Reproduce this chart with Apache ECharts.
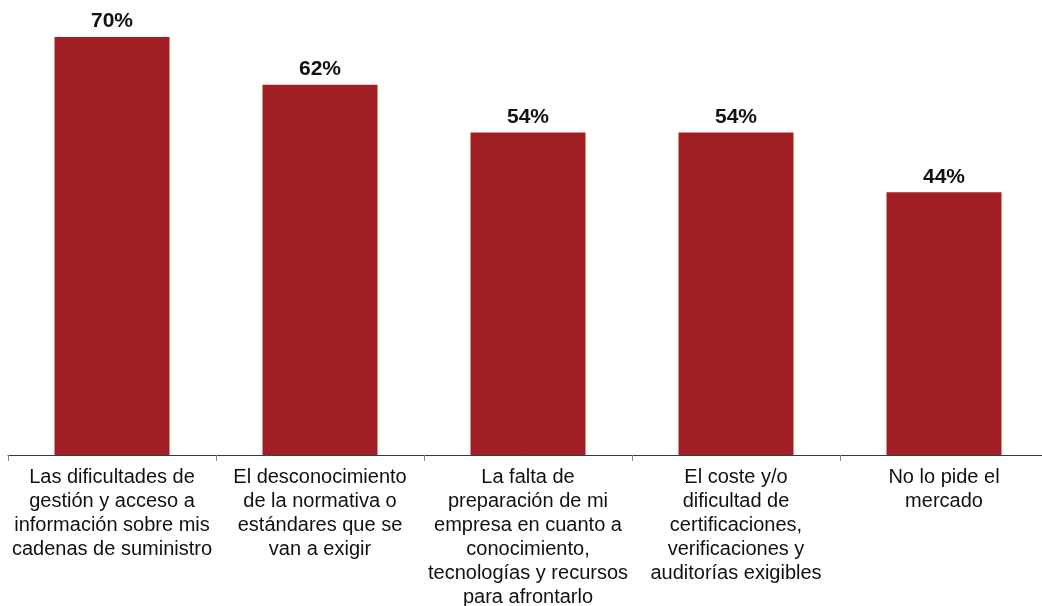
<!DOCTYPE html>
<html>
<head>
<meta charset="utf-8">
<style>
  html, body { margin: 0; padding: 0; background: #fff; }
  #chart { width: 1042px; height: 606px; }
</style>
<script src="https://cdn.jsdelivr.net/npm/echarts@6/dist/echarts.min.js"></script>
</head>
<body>
<div id="chart"></div>
<script>
// Barreras señaladas por las empresas (% de respuestas)
const categories = [
  'Las dificultades de\ngestión y acceso a\ninformación sobre mis\ncadenas de suministro',
  'El desconocimiento\nde la normativa o\nestándares que se\nvan a exigir',
  'La falta de\npreparación de mi\nempresa en cuanto a\nconocimiento,\ntecnologías y recursos\npara afrontarlo',
  'El coste y/o\ndificultad de\ncertificaciones,\nverificaciones y\nauditorías exigibles',
  'No lo pide el\nmercado'
];
const values = [70, 62, 54, 54, 44];

const chart = echarts.init(document.getElementById('chart'));
chart.setOption({
  animation: false,
  grid: { left: 8, right: -6, top: 0, height: 455, containLabel: false, outerBoundsMode: 'none' },
  xAxis: {
    type: 'category',
    data: categories,
    axisLine: { lineStyle: { color: '#3a3a3a', width: 1 } },
    axisTick: { show: true, length: 6, lineStyle: { color: '#8a8a8a' } },
    axisLabel: {
      interval: 0,
      margin: 10,
      color: '#111',
      fontFamily: 'Liberation Sans, Arial, sans-serif',
      fontSize: 20,
      lineHeight: 24,
      align: 'center'
    }
  },
  yAxis: {
    type: 'value',
    min: 0,
    max: 76.2,
    show: false,
    splitLine: { show: false }
  },
  series: [{
    type: 'bar',
    data: values,
    barWidth: 115,
    itemStyle: { color: '#A01F22' },
    label: {
      show: true,
      position: 'top',
      distance: 5,
      formatter: '{c}%',
      color: '#111',
      fontFamily: 'Liberation Sans, Arial, sans-serif',
      fontSize: 21,
      fontWeight: 'bold'
    }
  }]
});
</script>
</body>
</html>
